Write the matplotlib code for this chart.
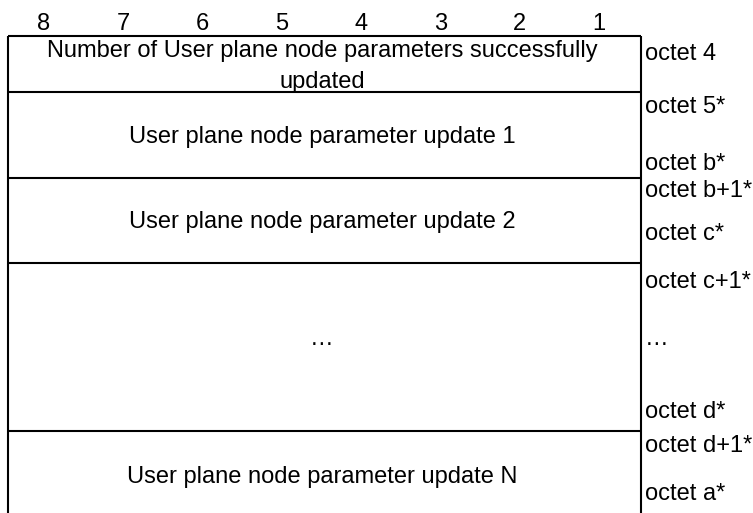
import matplotlib
matplotlib.use("Agg")
import matplotlib.pyplot as plt

# Data
bit_labels = ["8", "7", "6", "5", "4", "3", "2", "1"]
row_bounds = [36, 92, 178, 263, 431, 513]   # horizontal borders (pixels)
row_lines = [["Number of User plane node parameters successfully", "updated"],
             ["User plane node parameter update 1"],
             ["User plane node parameter update 2"],
             ["\u2026"],
             ["User plane node parameter update N"]]
row_baselines = [[57, 88], [143], [228], [345], [483]]
octet_labels = ["octet 4", "octet 5*", "octet b*", "octet b+1*", "octet c*",
                "octet c+1*", "\u2026", "octet d*", "octet d+1*", "octet a*"]
octet_baselines = [60, 113, 170, 197, 240, 288, 345, 418, 452, 500]

W, H = 753, 513
left, right = 8, 641

plt.rcParams['font.family'] = ['Liberation Sans', 'DejaVu Sans']
fig = plt.figure(figsize=(W / 100, H / 100), dpi=100)
ax = fig.add_axes([0, 0, 1, 1])
ax.set_xlim(0, W)
ax.set_ylim(H, 0)
ax.axis('off')

fs = 17
lw = 1.5

# bit numbers
step = (599 - 44) / 7
for i, b in enumerate(bit_labels):
    ax.text(44 + i * step, 30, b, ha='center', va='baseline', fontsize=fs)

# borders
ax.plot([left, left], [row_bounds[0], H], color='black', lw=lw, solid_capstyle='butt')
ax.plot([right, right], [row_bounds[0], H], color='black', lw=lw, solid_capstyle='butt')
for y in row_bounds[:-1]:
    ax.plot([left, right], [y, y], color='black', lw=lw, solid_capstyle='butt')

# row texts
for lines, bases in zip(row_lines, row_baselines):
    for t, yb in zip(lines, bases):
        ax.text(322, yb, t, ha='center', va='baseline', fontsize=fs)

# octet labels
for t, yb in zip(octet_labels, octet_baselines):
    ax.text(645, yb, t, ha='left', va='baseline', fontsize=fs)

fig.savefig("out.png", dpi=100)
